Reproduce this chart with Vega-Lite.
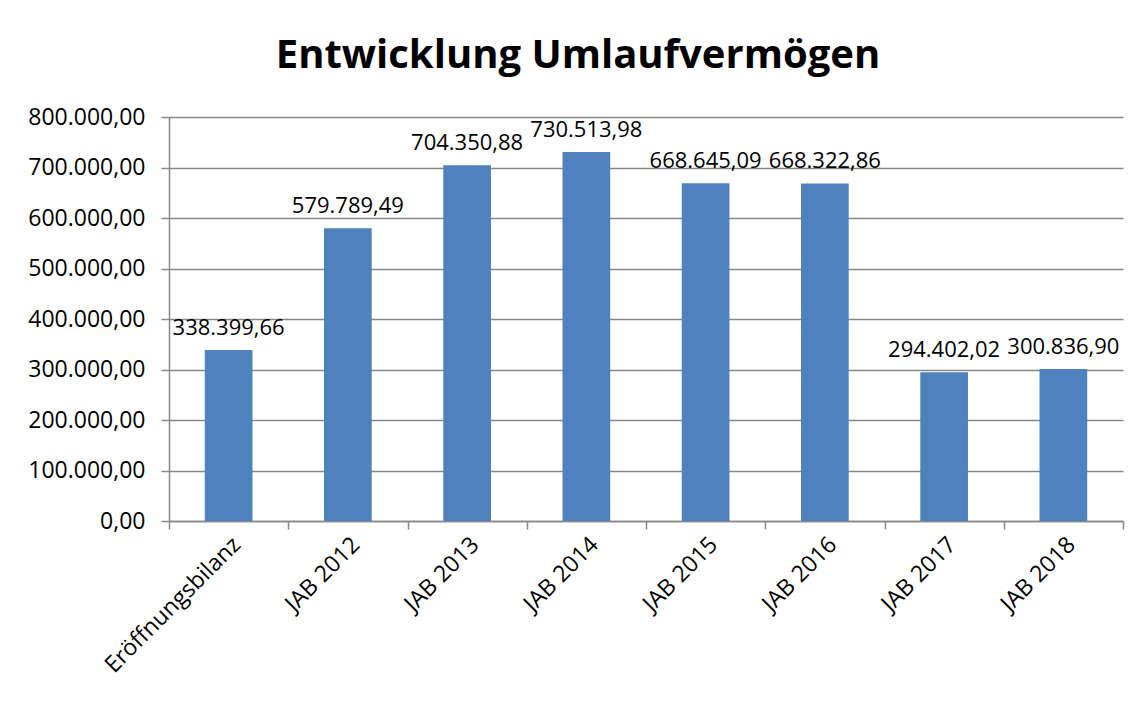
{
  "$schema": "https://vega.github.io/schema/vega-lite/v6.json",
  "width": 954,
  "height": 404,
  "autosize": {"type": "none"},
  "padding": {"left": 169, "top": 117, "right": 22, "bottom": 181},
  "background": "white",
  "config": {
    "locale": {"number": {"decimal": ",", "thousands": ".", "grouping": [3], "currency": ["", " €"]}},
    "font": "Open Sans",
    "view": {"stroke": null}
  },
  "title": {
    "text": "Entwicklung Umlaufvermögen",
    "fontSize": 40,
    "font": "Open Sans",
    "fontWeight": "bold",
    "color": "black",
    "anchor": "middle",
    "dx": -68,
    "offset": 30
  },
  "data": {
    "values": [
      {"k": "Eröffnungsbilanz", "v": 338399.66},
      {"k": "JAB 2012", "v": 579789.49},
      {"k": "JAB 2013", "v": 704350.88},
      {"k": "JAB 2014", "v": 730513.98},
      {"k": "JAB 2015", "v": 668645.09},
      {"k": "JAB 2016", "v": 668322.86},
      {"k": "JAB 2017", "v": 294402.02},
      {"k": "JAB 2018", "v": 300836.90}
    ]
  },
  "encoding": {
    "x": {
      "field": "k", "type": "nominal", "sort": null,
      "scale": {"paddingInner": 0, "paddingOuter": 0},
      "axis": {
        "title": null, "labelAngle": -45, "labelFontSize": 23, "labelColor": "black",
        "labelFont": "Open Sans", "domainColor": "#888888", "domainWidth": 1.5,
        "tickColor": "#888888", "tickWidth": 1.5, "tickSize": 8, "tickBand": "extent",
        "labelPadding": 4, "labelOverlap": false, "labelLimit": 0
      }
    },
    "y": {
      "field": "v", "type": "quantitative",
      "scale": {"domain": [0, 800000]},
      "axis": {
        "title": null, "format": ",.2f", "values": [0,100000,200000,300000,400000,500000,600000,700000,800000],
        "labelFontSize": 23, "labelColor": "black", "labelFont": "Open Sans", "labelOverlap": false,
        "domainColor": "#888888", "domainWidth": 1.5, "tickColor": "#888888", "tickWidth": 1.5,
        "tickSize": 8, "labelPadding": 16, "grid": true, "gridColor": "#888888", "gridWidth": 1.5
      }
    }
  },
  "layer": [
    {"mark": {"type": "bar", "color": "#4F81BD", "width": {"band": 0.4}}},
    {
      "mark": {"type": "text", "baseline": "bottom", "dy": -10, "fontSize": 22, "color": "black", "font": "Open Sans"},
      "encoding": {"text": {"field": "v", "type": "quantitative", "format": ",.2f"}}
    }
  ]
}
